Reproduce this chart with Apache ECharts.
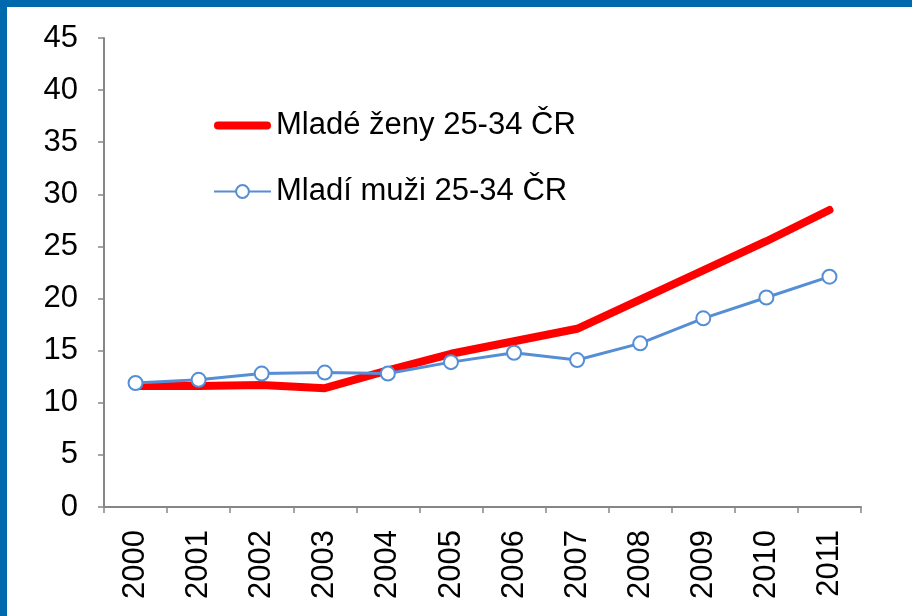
<!DOCTYPE html>
<html>
<head>
<meta charset="utf-8">
<script src="https://cdn.jsdelivr.net/npm/echarts@6/dist/echarts.min.js"></script>
<style>
  html, body { margin: 0; padding: 0; background: #fff; }
  #frame {
    width: 905px; height: 609px;
    border-top: 7px solid #0068ad;
    border-left: 7px solid #0068ad;
  }
  #chart { width: 905px; height: 609px; }
</style>
</head>
<body>
<div id="frame"><div id="chart"></div></div>
<script>
// roky
const years = ["2000", "2001", "2002", "2003", "2004", "2005", "2006", "2007", "2008", "2009", "2010", "2011"];
// mladé ženy 25-34 ČR
const zeny = [11.6, 11.6, 11.7, 11.4, 13.1, 14.7, 15.9, 17.1, 19.9, 22.7, 25.5, 28.5];
// mladí muži 25-34 ČR
const muzi = [11.9, 12.2, 12.8, 12.9, 12.8, 13.9, 14.8, 14.1, 15.7, 18.1, 20.1, 22.1];

const font = "Liberation Sans, Arial, sans-serif";
const axisColor = "#868686";
const fontSize = 31;

const option = {
  animation: false,
  textStyle: { fontFamily: font },
  legend: {
    orient: "vertical",
    left: 201,
    top: 98,
    itemGap: 35,
    itemWidth: 57,
    itemHeight: 16,
    textStyle: { fontSize: fontSize, color: "#000", fontFamily: font },
    data: [
      {
        name: "Mladé ženy 25-34 ČR",
        icon: "path://M4,0 L53,0 A4,4 0 0 1 53,8 L4,8 A4,4 0 0 1 4,0 Z",
        itemStyle: { color: "#ff0000" },
      },
      { name: "Mladí muži 25-34 ČR" },
    ],
  },
  grid: { left: 97, right: 51, top: 31, bottom: 109 },
  xAxis: {
    type: "category",
    data: years,
    boundaryGap: true,
    axisLine: { lineStyle: { color: axisColor, width: 2 } },
    axisTick: { show: true, length: 6, lineStyle: { color: axisColor, width: 1.5 } },
    axisLabel: { rotate: 90, margin: 23, fontSize: fontSize, color: "#000", fontFamily: font },
  },
  yAxis: {
    type: "value",
    min: 0,
    max: 45,
    interval: 5,
    splitLine: { show: false },
    axisLine: { show: true, lineStyle: { color: axisColor, width: 2 } },
    axisTick: { show: true, length: 6, lineStyle: { color: axisColor, width: 1.5 } },
    axisLabel: { margin: 26, fontSize: fontSize, color: "#000", fontFamily: font },
  },
  series: [
    {
      name: "Mladé ženy 25-34 ČR",
      type: "line",
      data: zeny,
      symbol: "none",
      z: 2,
      lineStyle: { color: "#ff0000", width: 8, cap: "round" },
      itemStyle: { color: "#ff0000" },
    },
    {
      name: "Mladí muži 25-34 ČR",
      type: "line",
      data: muzi,
      symbol: "circle",
      symbolSize: 14,
      z: 3,
      lineStyle: { color: "#558ed5", width: 3 },
      itemStyle: { color: "#fff", borderColor: "#558ed5", borderWidth: 2 },
    },
  ],
};

const myChart = echarts.init(document.getElementById("chart"));
myChart.setOption(option);
</script>
</body>
</html>
